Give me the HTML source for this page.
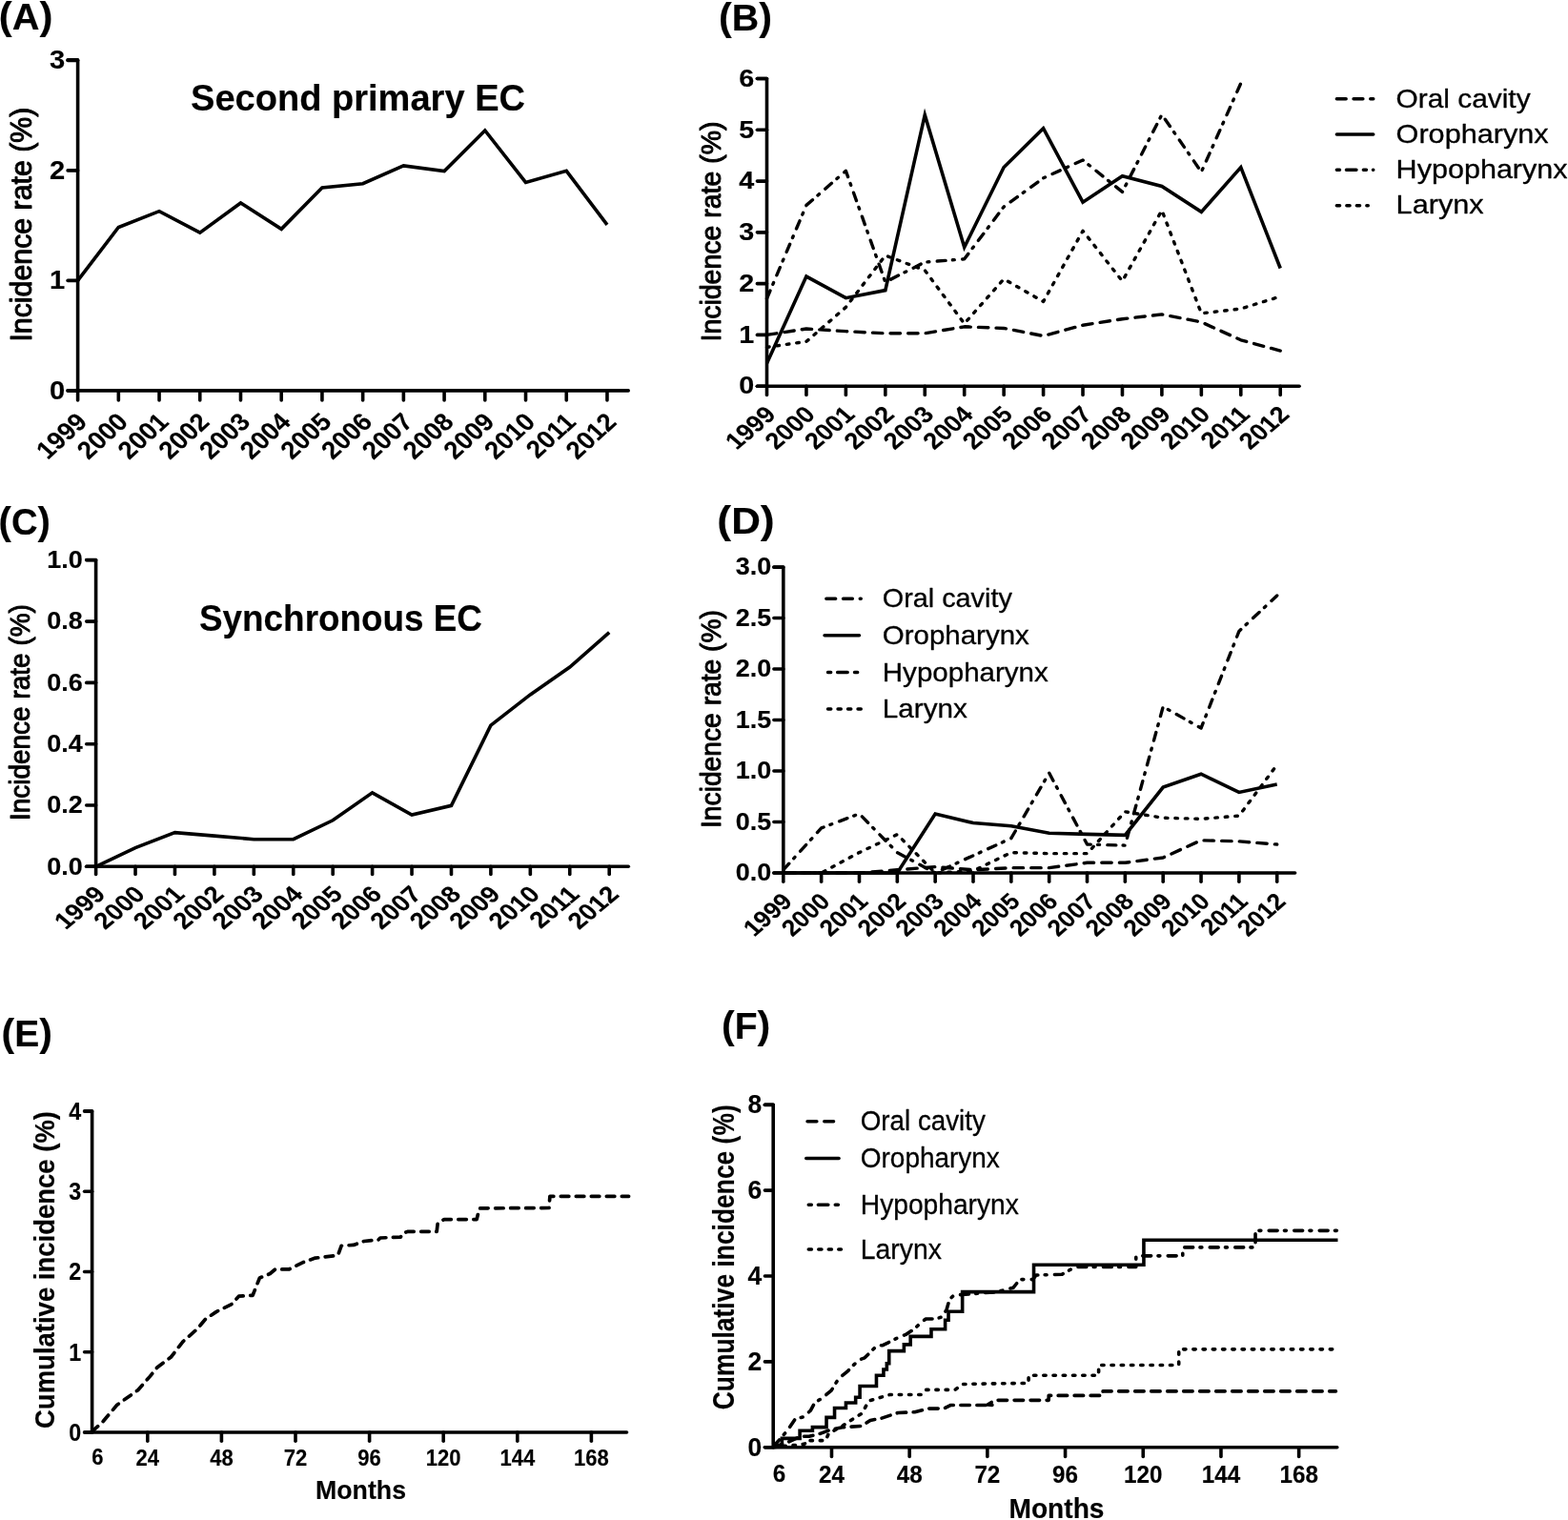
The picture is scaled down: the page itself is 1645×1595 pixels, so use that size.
<!DOCTYPE html>
<html><head><meta charset="utf-8"><title>Figure</title>
<style>html,body{margin:0;padding:0;background:#fff;}svg{display:block;}
text{font-family:"Liberation Sans",sans-serif;}</style></head>
<body>
<svg width="1645" height="1595" viewBox="0 0 1645 1595" stroke="#000" fill="#000" font-family="'Liberation Sans', sans-serif">
<rect x="0" y="0" width="1645" height="1595" fill="#fff" stroke="none"/>
<polyline points="71.1,62.9 81.6,62.9 81.6,409.9" fill="none" stroke-width="3.6" stroke-linecap="round" stroke-linejoin="round"/>
<line x1="71.1" y1="409.9" x2="81.6" y2="409.9" stroke-width="3.6" stroke-linecap="round"/>
<text x="68.2" y="418.87" font-size="27" font-weight="bold" text-anchor="end" textLength="16.22" lengthAdjust="spacingAndGlyphs" stroke="#000" stroke-width="0.15" stroke-linejoin="round">0</text>
<line x1="71.1" y1="294.4" x2="81.6" y2="294.4" stroke-width="3.6" stroke-linecap="round"/>
<text x="68.2" y="303.37" font-size="27" font-weight="bold" text-anchor="end" textLength="16.22" lengthAdjust="spacingAndGlyphs" stroke="#000" stroke-width="0.15" stroke-linejoin="round">1</text>
<line x1="71.1" y1="178.9" x2="81.6" y2="178.9" stroke-width="3.6" stroke-linecap="round"/>
<text x="68.2" y="187.87" font-size="27" font-weight="bold" text-anchor="end" textLength="16.22" lengthAdjust="spacingAndGlyphs" stroke="#000" stroke-width="0.15" stroke-linejoin="round">2</text>
<line x1="71.1" y1="63.4" x2="81.6" y2="63.4" stroke-width="3.6" stroke-linecap="round"/>
<text x="68.2" y="72.37" font-size="27" font-weight="bold" text-anchor="end" textLength="16.22" lengthAdjust="spacingAndGlyphs" stroke="#000" stroke-width="0.15" stroke-linejoin="round">3</text>
<line x1="71.1" y1="409.9" x2="659.2" y2="409.9" stroke-width="3.6" stroke-linecap="round"/>
<line x1="81.6" y1="409.9" x2="81.6" y2="420" stroke-width="3.6" stroke-linecap="round"/>
<text x="0" y="0" font-size="25.9" font-weight="bold" text-anchor="end" textLength="54.74" lengthAdjust="spacingAndGlyphs" transform="translate(93 444.2) scale(1.11 1) rotate(-45)" stroke="#000" stroke-width="0.15" stroke-linejoin="round">1999</text>
<line x1="124.32" y1="409.9" x2="124.32" y2="420" stroke-width="3.6" stroke-linecap="round"/>
<text x="0" y="0" font-size="25.9" font-weight="bold" text-anchor="end" textLength="54.74" lengthAdjust="spacingAndGlyphs" transform="translate(135.72 444.2) scale(1.11 1) rotate(-45)" stroke="#000" stroke-width="0.15" stroke-linejoin="round">2000</text>
<line x1="167.04" y1="409.9" x2="167.04" y2="420" stroke-width="3.6" stroke-linecap="round"/>
<text x="0" y="0" font-size="25.9" font-weight="bold" text-anchor="end" textLength="54.74" lengthAdjust="spacingAndGlyphs" transform="translate(178.44 444.2) scale(1.11 1) rotate(-45)" stroke="#000" stroke-width="0.15" stroke-linejoin="round">2001</text>
<line x1="209.76" y1="409.9" x2="209.76" y2="420" stroke-width="3.6" stroke-linecap="round"/>
<text x="0" y="0" font-size="25.9" font-weight="bold" text-anchor="end" textLength="54.74" lengthAdjust="spacingAndGlyphs" transform="translate(221.16 444.2) scale(1.11 1) rotate(-45)" stroke="#000" stroke-width="0.15" stroke-linejoin="round">2002</text>
<line x1="252.48" y1="409.9" x2="252.48" y2="420" stroke-width="3.6" stroke-linecap="round"/>
<text x="0" y="0" font-size="25.9" font-weight="bold" text-anchor="end" textLength="54.74" lengthAdjust="spacingAndGlyphs" transform="translate(263.88 444.2) scale(1.11 1) rotate(-45)" stroke="#000" stroke-width="0.15" stroke-linejoin="round">2003</text>
<line x1="295.2" y1="409.9" x2="295.2" y2="420" stroke-width="3.6" stroke-linecap="round"/>
<text x="0" y="0" font-size="25.9" font-weight="bold" text-anchor="end" textLength="54.74" lengthAdjust="spacingAndGlyphs" transform="translate(306.6 444.2) scale(1.11 1) rotate(-45)" stroke="#000" stroke-width="0.15" stroke-linejoin="round">2004</text>
<line x1="337.92" y1="409.9" x2="337.92" y2="420" stroke-width="3.6" stroke-linecap="round"/>
<text x="0" y="0" font-size="25.9" font-weight="bold" text-anchor="end" textLength="54.74" lengthAdjust="spacingAndGlyphs" transform="translate(349.32 444.2) scale(1.11 1) rotate(-45)" stroke="#000" stroke-width="0.15" stroke-linejoin="round">2005</text>
<line x1="380.64" y1="409.9" x2="380.64" y2="420" stroke-width="3.6" stroke-linecap="round"/>
<text x="0" y="0" font-size="25.9" font-weight="bold" text-anchor="end" textLength="54.74" lengthAdjust="spacingAndGlyphs" transform="translate(392.04 444.2) scale(1.11 1) rotate(-45)" stroke="#000" stroke-width="0.15" stroke-linejoin="round">2006</text>
<line x1="423.36" y1="409.9" x2="423.36" y2="420" stroke-width="3.6" stroke-linecap="round"/>
<text x="0" y="0" font-size="25.9" font-weight="bold" text-anchor="end" textLength="54.74" lengthAdjust="spacingAndGlyphs" transform="translate(434.76 444.2) scale(1.11 1) rotate(-45)" stroke="#000" stroke-width="0.15" stroke-linejoin="round">2007</text>
<line x1="466.08" y1="409.9" x2="466.08" y2="420" stroke-width="3.6" stroke-linecap="round"/>
<text x="0" y="0" font-size="25.9" font-weight="bold" text-anchor="end" textLength="54.74" lengthAdjust="spacingAndGlyphs" transform="translate(477.48 444.2) scale(1.11 1) rotate(-45)" stroke="#000" stroke-width="0.15" stroke-linejoin="round">2008</text>
<line x1="508.8" y1="409.9" x2="508.8" y2="420" stroke-width="3.6" stroke-linecap="round"/>
<text x="0" y="0" font-size="25.9" font-weight="bold" text-anchor="end" textLength="54.74" lengthAdjust="spacingAndGlyphs" transform="translate(520.2 444.2) scale(1.11 1) rotate(-45)" stroke="#000" stroke-width="0.15" stroke-linejoin="round">2009</text>
<line x1="551.52" y1="409.9" x2="551.52" y2="420" stroke-width="3.6" stroke-linecap="round"/>
<text x="0" y="0" font-size="25.9" font-weight="bold" text-anchor="end" textLength="54.74" lengthAdjust="spacingAndGlyphs" transform="translate(562.92 444.2) scale(1.11 1) rotate(-45)" stroke="#000" stroke-width="0.15" stroke-linejoin="round">2010</text>
<line x1="594.24" y1="409.9" x2="594.24" y2="420" stroke-width="3.6" stroke-linecap="round"/>
<text x="0" y="0" font-size="25.9" font-weight="bold" text-anchor="end" textLength="53.38" lengthAdjust="spacingAndGlyphs" transform="translate(605.64 444.2) scale(1.11 1) rotate(-45)" stroke="#000" stroke-width="0.15" stroke-linejoin="round">2011</text>
<line x1="636.96" y1="409.9" x2="636.96" y2="420" stroke-width="3.6" stroke-linecap="round"/>
<text x="0" y="0" font-size="25.9" font-weight="bold" text-anchor="end" textLength="54.74" lengthAdjust="spacingAndGlyphs" transform="translate(648.36 444.2) scale(1.11 1) rotate(-45)" stroke="#000" stroke-width="0.15" stroke-linejoin="round">2012</text>
<polyline points="81.6,294.4 124.32,238.5 167.04,221.63 209.76,244.16 252.48,212.97 295.2,240.35 337.92,196.92 380.64,192.76 423.36,173.93 466.08,179.59 508.8,136.86 551.52,191.37 594.24,179.36 636.96,235.84" fill="none" stroke-width="3.6" stroke-linecap="butt" stroke-linejoin="miter"/>
<text x="32.9" y="235.6" font-size="31" text-anchor="middle" textLength="246" lengthAdjust="spacingAndGlyphs" transform="rotate(-90 32.9 235.6)" stroke="#000" stroke-width="1" stroke-linejoin="round">Incidence rate (%)</text>
<text x="200" y="116.2" font-size="38" font-weight="bold" textLength="351" lengthAdjust="spacingAndGlyphs" stroke="#000" stroke-width="0.15" stroke-linejoin="round">Second primary EC</text>
<polyline points="794.4,82.5 804.5,82.5 804.5,405.2" fill="none" stroke-width="3.6" stroke-linecap="round" stroke-linejoin="round"/>
<line x1="794.4" y1="405.2" x2="804.5" y2="405.2" stroke-width="3.6" stroke-linecap="round"/>
<text x="791.2" y="413.45" font-size="25" font-weight="bold" text-anchor="end" textLength="15.99" lengthAdjust="spacingAndGlyphs" stroke="#000" stroke-width="0.15" stroke-linejoin="round">0</text>
<line x1="794.4" y1="351.42" x2="804.5" y2="351.42" stroke-width="3.6" stroke-linecap="round"/>
<text x="791.2" y="359.67" font-size="25" font-weight="bold" text-anchor="end" textLength="15.99" lengthAdjust="spacingAndGlyphs" stroke="#000" stroke-width="0.15" stroke-linejoin="round">1</text>
<line x1="794.4" y1="297.64" x2="804.5" y2="297.64" stroke-width="3.6" stroke-linecap="round"/>
<text x="791.2" y="305.89" font-size="25" font-weight="bold" text-anchor="end" textLength="15.99" lengthAdjust="spacingAndGlyphs" stroke="#000" stroke-width="0.15" stroke-linejoin="round">2</text>
<line x1="794.4" y1="243.86" x2="804.5" y2="243.86" stroke-width="3.6" stroke-linecap="round"/>
<text x="791.2" y="252.11" font-size="25" font-weight="bold" text-anchor="end" textLength="15.99" lengthAdjust="spacingAndGlyphs" stroke="#000" stroke-width="0.15" stroke-linejoin="round">3</text>
<line x1="794.4" y1="190.08" x2="804.5" y2="190.08" stroke-width="3.6" stroke-linecap="round"/>
<text x="791.2" y="198.33" font-size="25" font-weight="bold" text-anchor="end" textLength="15.99" lengthAdjust="spacingAndGlyphs" stroke="#000" stroke-width="0.15" stroke-linejoin="round">4</text>
<line x1="794.4" y1="136.3" x2="804.5" y2="136.3" stroke-width="3.6" stroke-linecap="round"/>
<text x="791.2" y="144.55" font-size="25" font-weight="bold" text-anchor="end" textLength="15.99" lengthAdjust="spacingAndGlyphs" stroke="#000" stroke-width="0.15" stroke-linejoin="round">5</text>
<line x1="794.4" y1="82.52" x2="804.5" y2="82.52" stroke-width="3.6" stroke-linecap="round"/>
<text x="791.2" y="90.77" font-size="25" font-weight="bold" text-anchor="end" textLength="15.99" lengthAdjust="spacingAndGlyphs" stroke="#000" stroke-width="0.15" stroke-linejoin="round">6</text>
<line x1="794.4" y1="405.2" x2="1363.1" y2="405.2" stroke-width="3.6" stroke-linecap="round"/>
<line x1="804.5" y1="405.2" x2="804.5" y2="414.4" stroke-width="3.6" stroke-linecap="round"/>
<text x="0" y="0" font-size="24.3" font-weight="bold" text-anchor="end" textLength="51.36" lengthAdjust="spacingAndGlyphs" transform="translate(815.3 436.5) scale(1.17 1) rotate(-45)" stroke="#000" stroke-width="0.15" stroke-linejoin="round">1999</text>
<line x1="845.94" y1="405.2" x2="845.94" y2="414.4" stroke-width="3.6" stroke-linecap="round"/>
<text x="0" y="0" font-size="24.3" font-weight="bold" text-anchor="end" textLength="51.36" lengthAdjust="spacingAndGlyphs" transform="translate(856.74 436.5) scale(1.17 1) rotate(-45)" stroke="#000" stroke-width="0.15" stroke-linejoin="round">2000</text>
<line x1="887.38" y1="405.2" x2="887.38" y2="414.4" stroke-width="3.6" stroke-linecap="round"/>
<text x="0" y="0" font-size="24.3" font-weight="bold" text-anchor="end" textLength="51.36" lengthAdjust="spacingAndGlyphs" transform="translate(898.18 436.5) scale(1.17 1) rotate(-45)" stroke="#000" stroke-width="0.15" stroke-linejoin="round">2001</text>
<line x1="928.82" y1="405.2" x2="928.82" y2="414.4" stroke-width="3.6" stroke-linecap="round"/>
<text x="0" y="0" font-size="24.3" font-weight="bold" text-anchor="end" textLength="51.36" lengthAdjust="spacingAndGlyphs" transform="translate(939.62 436.5) scale(1.17 1) rotate(-45)" stroke="#000" stroke-width="0.15" stroke-linejoin="round">2002</text>
<line x1="970.26" y1="405.2" x2="970.26" y2="414.4" stroke-width="3.6" stroke-linecap="round"/>
<text x="0" y="0" font-size="24.3" font-weight="bold" text-anchor="end" textLength="51.36" lengthAdjust="spacingAndGlyphs" transform="translate(981.06 436.5) scale(1.17 1) rotate(-45)" stroke="#000" stroke-width="0.15" stroke-linejoin="round">2003</text>
<line x1="1011.7" y1="405.2" x2="1011.7" y2="414.4" stroke-width="3.6" stroke-linecap="round"/>
<text x="0" y="0" font-size="24.3" font-weight="bold" text-anchor="end" textLength="51.36" lengthAdjust="spacingAndGlyphs" transform="translate(1022.5 436.5) scale(1.17 1) rotate(-45)" stroke="#000" stroke-width="0.15" stroke-linejoin="round">2004</text>
<line x1="1053.14" y1="405.2" x2="1053.14" y2="414.4" stroke-width="3.6" stroke-linecap="round"/>
<text x="0" y="0" font-size="24.3" font-weight="bold" text-anchor="end" textLength="51.36" lengthAdjust="spacingAndGlyphs" transform="translate(1063.94 436.5) scale(1.17 1) rotate(-45)" stroke="#000" stroke-width="0.15" stroke-linejoin="round">2005</text>
<line x1="1094.58" y1="405.2" x2="1094.58" y2="414.4" stroke-width="3.6" stroke-linecap="round"/>
<text x="0" y="0" font-size="24.3" font-weight="bold" text-anchor="end" textLength="51.36" lengthAdjust="spacingAndGlyphs" transform="translate(1105.38 436.5) scale(1.17 1) rotate(-45)" stroke="#000" stroke-width="0.15" stroke-linejoin="round">2006</text>
<line x1="1136.02" y1="405.2" x2="1136.02" y2="414.4" stroke-width="3.6" stroke-linecap="round"/>
<text x="0" y="0" font-size="24.3" font-weight="bold" text-anchor="end" textLength="51.36" lengthAdjust="spacingAndGlyphs" transform="translate(1146.82 436.5) scale(1.17 1) rotate(-45)" stroke="#000" stroke-width="0.15" stroke-linejoin="round">2007</text>
<line x1="1177.46" y1="405.2" x2="1177.46" y2="414.4" stroke-width="3.6" stroke-linecap="round"/>
<text x="0" y="0" font-size="24.3" font-weight="bold" text-anchor="end" textLength="51.36" lengthAdjust="spacingAndGlyphs" transform="translate(1188.26 436.5) scale(1.17 1) rotate(-45)" stroke="#000" stroke-width="0.15" stroke-linejoin="round">2008</text>
<line x1="1218.9" y1="405.2" x2="1218.9" y2="414.4" stroke-width="3.6" stroke-linecap="round"/>
<text x="0" y="0" font-size="24.3" font-weight="bold" text-anchor="end" textLength="51.36" lengthAdjust="spacingAndGlyphs" transform="translate(1229.7 436.5) scale(1.17 1) rotate(-45)" stroke="#000" stroke-width="0.15" stroke-linejoin="round">2009</text>
<line x1="1260.34" y1="405.2" x2="1260.34" y2="414.4" stroke-width="3.6" stroke-linecap="round"/>
<text x="0" y="0" font-size="24.3" font-weight="bold" text-anchor="end" textLength="51.36" lengthAdjust="spacingAndGlyphs" transform="translate(1271.14 436.5) scale(1.17 1) rotate(-45)" stroke="#000" stroke-width="0.15" stroke-linejoin="round">2010</text>
<line x1="1301.78" y1="405.2" x2="1301.78" y2="414.4" stroke-width="3.6" stroke-linecap="round"/>
<text x="0" y="0" font-size="24.3" font-weight="bold" text-anchor="end" textLength="50.08" lengthAdjust="spacingAndGlyphs" transform="translate(1312.58 436.5) scale(1.17 1) rotate(-45)" stroke="#000" stroke-width="0.15" stroke-linejoin="round">2011</text>
<line x1="1343.22" y1="405.2" x2="1343.22" y2="414.4" stroke-width="3.6" stroke-linecap="round"/>
<text x="0" y="0" font-size="24.3" font-weight="bold" text-anchor="end" textLength="51.36" lengthAdjust="spacingAndGlyphs" transform="translate(1354.02 436.5) scale(1.17 1) rotate(-45)" stroke="#000" stroke-width="0.15" stroke-linejoin="round">2012</text>
<polyline points="804.5,351.42 845.94,344.97 887.38,347.66 928.82,349.81 970.26,349.81 1011.7,342.82 1053.14,344.43 1094.58,352.5 1136.02,341.2 1177.46,334.75 1218.9,329.91 1260.34,337.98 1301.78,356.8 1343.22,368.09" fill="none" stroke-width="3.4" stroke-linecap="round" stroke-linejoin="round" stroke-dasharray="10.4 8.2"/>
<polyline points="804.5,381.27 845.94,290.11 887.38,312.7 928.82,304.63 970.26,120.7 1011.7,259.46 1053.14,175.56 1094.58,134.69 1136.02,212.13 1177.46,184.7 1218.9,195.46 1260.34,222.35 1301.78,175.56 1343.22,281.51" fill="none" stroke-width="3.6" stroke-linecap="butt" stroke-linejoin="miter"/>
<polyline points="804.5,313.24 845.94,215.36 887.38,179.32 928.82,296.03 970.26,275.05 1011.7,271.83 1053.14,216.97 1094.58,186.85 1136.02,168.03 1177.46,201.37 1218.9,120.17 1260.34,180.4 1301.78,87.36" fill="none" stroke-width="3.4" stroke-linecap="round" stroke-linejoin="round" stroke-dasharray="8.9 7.3 1.9 8.4"/>
<polyline points="804.5,364.33 845.94,358.41 887.38,322.38 928.82,268.06 970.26,283.66 1011.7,339.59 1053.14,292.8 1094.58,316.46 1136.02,242.25 1177.46,294.95 1218.9,220.73 1260.34,328.83 1301.78,323.99 1343.22,311.08" fill="none" stroke-width="3.4" stroke-linecap="round" stroke-linejoin="round" stroke-dasharray="2.6 7.9"/>
<text x="756.3" y="243" font-size="30" text-anchor="middle" textLength="231" lengthAdjust="spacingAndGlyphs" transform="rotate(-90 756.3 243)" stroke="#000" stroke-width="1" stroke-linejoin="round">Incidence rate (%)</text>
<polyline points="1402.35,103.8 1440.75,103.8" fill="none" stroke-width="3.5" stroke-linecap="round" stroke-linejoin="round" stroke-dasharray="9.8 7.9"/>
<text x="1464.6" y="113.2" font-size="27.5" textLength="141" lengthAdjust="spacingAndGlyphs" stroke="#000" stroke-width="0.3" stroke-linejoin="round">Oral cavity</text>
<line x1="1402.35" y1="140.9" x2="1440.75" y2="140.9" stroke-width="3.5" stroke-linecap="round"/>
<text x="1464.6" y="149.7" font-size="27.5" textLength="160" lengthAdjust="spacingAndGlyphs" stroke="#000" stroke-width="0.3" stroke-linejoin="round">Oropharynx</text>
<polyline points="1402.35,178.3 1440.75,178.3" fill="none" stroke-width="3.5" stroke-linecap="round" stroke-linejoin="round" stroke-dasharray="3.1 7 10.5 7.4"/>
<text x="1464.6" y="186.8" font-size="27.5" textLength="180" lengthAdjust="spacingAndGlyphs" stroke="#000" stroke-width="0.3" stroke-linejoin="round">Hypopharynx</text>
<polyline points="1402.35,215.8 1435.25,215.8" fill="none" stroke-width="3.5" stroke-linecap="round" stroke-linejoin="round" stroke-dasharray="3.2 7.3"/>
<text x="1464.6" y="223.9" font-size="27.5" textLength="92" lengthAdjust="spacingAndGlyphs" stroke="#000" stroke-width="0.3" stroke-linejoin="round">Larynx</text>
<polyline points="90.7,587.5 100.6,587.5 100.6,909.3" fill="none" stroke-width="3.6" stroke-linecap="round" stroke-linejoin="round"/>
<line x1="90.7" y1="909.3" x2="100.6" y2="909.3" stroke-width="3.6" stroke-linecap="round"/>
<text x="86.8" y="917.55" font-size="25" font-weight="bold" text-anchor="end" textLength="37.53" lengthAdjust="spacingAndGlyphs" stroke="#000" stroke-width="0.15" stroke-linejoin="round">0.0</text>
<line x1="90.7" y1="845" x2="100.6" y2="845" stroke-width="3.6" stroke-linecap="round"/>
<text x="86.8" y="853.25" font-size="25" font-weight="bold" text-anchor="end" textLength="37.53" lengthAdjust="spacingAndGlyphs" stroke="#000" stroke-width="0.15" stroke-linejoin="round">0.2</text>
<line x1="90.7" y1="780.7" x2="100.6" y2="780.7" stroke-width="3.6" stroke-linecap="round"/>
<text x="86.8" y="788.95" font-size="25" font-weight="bold" text-anchor="end" textLength="37.53" lengthAdjust="spacingAndGlyphs" stroke="#000" stroke-width="0.15" stroke-linejoin="round">0.4</text>
<line x1="90.7" y1="716.4" x2="100.6" y2="716.4" stroke-width="3.6" stroke-linecap="round"/>
<text x="86.8" y="724.65" font-size="25" font-weight="bold" text-anchor="end" textLength="37.53" lengthAdjust="spacingAndGlyphs" stroke="#000" stroke-width="0.15" stroke-linejoin="round">0.6</text>
<line x1="90.7" y1="652.1" x2="100.6" y2="652.1" stroke-width="3.6" stroke-linecap="round"/>
<text x="86.8" y="660.35" font-size="25" font-weight="bold" text-anchor="end" textLength="37.53" lengthAdjust="spacingAndGlyphs" stroke="#000" stroke-width="0.15" stroke-linejoin="round">0.8</text>
<line x1="90.7" y1="587.8" x2="100.6" y2="587.8" stroke-width="3.6" stroke-linecap="round"/>
<text x="86.8" y="596.05" font-size="25" font-weight="bold" text-anchor="end" textLength="37.53" lengthAdjust="spacingAndGlyphs" stroke="#000" stroke-width="0.15" stroke-linejoin="round">1.0</text>
<line x1="90.7" y1="909.3" x2="659.3" y2="909.3" stroke-width="3.6" stroke-linecap="round"/>
<line x1="100.6" y1="909.3" x2="100.6" y2="917.5" stroke-width="3.6" stroke-linecap="round"/>
<text x="0" y="0" font-size="24.3" font-weight="bold" text-anchor="end" textLength="51.36" lengthAdjust="spacingAndGlyphs" transform="translate(112.1 939.9) scale(1.19 1) rotate(-45)" stroke="#000" stroke-width="0.15" stroke-linejoin="round">1999</text>
<line x1="142.03" y1="909.3" x2="142.03" y2="917.5" stroke-width="3.6" stroke-linecap="round"/>
<text x="0" y="0" font-size="24.3" font-weight="bold" text-anchor="end" textLength="51.36" lengthAdjust="spacingAndGlyphs" transform="translate(153.53 939.9) scale(1.19 1) rotate(-45)" stroke="#000" stroke-width="0.15" stroke-linejoin="round">2000</text>
<line x1="183.46" y1="909.3" x2="183.46" y2="917.5" stroke-width="3.6" stroke-linecap="round"/>
<text x="0" y="0" font-size="24.3" font-weight="bold" text-anchor="end" textLength="51.36" lengthAdjust="spacingAndGlyphs" transform="translate(194.96 939.9) scale(1.19 1) rotate(-45)" stroke="#000" stroke-width="0.15" stroke-linejoin="round">2001</text>
<line x1="224.89" y1="909.3" x2="224.89" y2="917.5" stroke-width="3.6" stroke-linecap="round"/>
<text x="0" y="0" font-size="24.3" font-weight="bold" text-anchor="end" textLength="51.36" lengthAdjust="spacingAndGlyphs" transform="translate(236.39 939.9) scale(1.19 1) rotate(-45)" stroke="#000" stroke-width="0.15" stroke-linejoin="round">2002</text>
<line x1="266.32" y1="909.3" x2="266.32" y2="917.5" stroke-width="3.6" stroke-linecap="round"/>
<text x="0" y="0" font-size="24.3" font-weight="bold" text-anchor="end" textLength="51.36" lengthAdjust="spacingAndGlyphs" transform="translate(277.82 939.9) scale(1.19 1) rotate(-45)" stroke="#000" stroke-width="0.15" stroke-linejoin="round">2003</text>
<line x1="307.75" y1="909.3" x2="307.75" y2="917.5" stroke-width="3.6" stroke-linecap="round"/>
<text x="0" y="0" font-size="24.3" font-weight="bold" text-anchor="end" textLength="51.36" lengthAdjust="spacingAndGlyphs" transform="translate(319.25 939.9) scale(1.19 1) rotate(-45)" stroke="#000" stroke-width="0.15" stroke-linejoin="round">2004</text>
<line x1="349.18" y1="909.3" x2="349.18" y2="917.5" stroke-width="3.6" stroke-linecap="round"/>
<text x="0" y="0" font-size="24.3" font-weight="bold" text-anchor="end" textLength="51.36" lengthAdjust="spacingAndGlyphs" transform="translate(360.68 939.9) scale(1.19 1) rotate(-45)" stroke="#000" stroke-width="0.15" stroke-linejoin="round">2005</text>
<line x1="390.61" y1="909.3" x2="390.61" y2="917.5" stroke-width="3.6" stroke-linecap="round"/>
<text x="0" y="0" font-size="24.3" font-weight="bold" text-anchor="end" textLength="51.36" lengthAdjust="spacingAndGlyphs" transform="translate(402.11 939.9) scale(1.19 1) rotate(-45)" stroke="#000" stroke-width="0.15" stroke-linejoin="round">2006</text>
<line x1="432.04" y1="909.3" x2="432.04" y2="917.5" stroke-width="3.6" stroke-linecap="round"/>
<text x="0" y="0" font-size="24.3" font-weight="bold" text-anchor="end" textLength="51.36" lengthAdjust="spacingAndGlyphs" transform="translate(443.54 939.9) scale(1.19 1) rotate(-45)" stroke="#000" stroke-width="0.15" stroke-linejoin="round">2007</text>
<line x1="473.47" y1="909.3" x2="473.47" y2="917.5" stroke-width="3.6" stroke-linecap="round"/>
<text x="0" y="0" font-size="24.3" font-weight="bold" text-anchor="end" textLength="51.36" lengthAdjust="spacingAndGlyphs" transform="translate(484.97 939.9) scale(1.19 1) rotate(-45)" stroke="#000" stroke-width="0.15" stroke-linejoin="round">2008</text>
<line x1="514.9" y1="909.3" x2="514.9" y2="917.5" stroke-width="3.6" stroke-linecap="round"/>
<text x="0" y="0" font-size="24.3" font-weight="bold" text-anchor="end" textLength="51.36" lengthAdjust="spacingAndGlyphs" transform="translate(526.4 939.9) scale(1.19 1) rotate(-45)" stroke="#000" stroke-width="0.15" stroke-linejoin="round">2009</text>
<line x1="556.33" y1="909.3" x2="556.33" y2="917.5" stroke-width="3.6" stroke-linecap="round"/>
<text x="0" y="0" font-size="24.3" font-weight="bold" text-anchor="end" textLength="51.36" lengthAdjust="spacingAndGlyphs" transform="translate(567.83 939.9) scale(1.19 1) rotate(-45)" stroke="#000" stroke-width="0.15" stroke-linejoin="round">2010</text>
<line x1="597.76" y1="909.3" x2="597.76" y2="917.5" stroke-width="3.6" stroke-linecap="round"/>
<text x="0" y="0" font-size="24.3" font-weight="bold" text-anchor="end" textLength="50.08" lengthAdjust="spacingAndGlyphs" transform="translate(609.26 939.9) scale(1.19 1) rotate(-45)" stroke="#000" stroke-width="0.15" stroke-linejoin="round">2011</text>
<line x1="639.19" y1="909.3" x2="639.19" y2="917.5" stroke-width="3.6" stroke-linecap="round"/>
<text x="0" y="0" font-size="24.3" font-weight="bold" text-anchor="end" textLength="51.36" lengthAdjust="spacingAndGlyphs" transform="translate(650.69 939.9) scale(1.19 1) rotate(-45)" stroke="#000" stroke-width="0.15" stroke-linejoin="round">2012</text>
<polyline points="100.6,909.3 142.03,889.69 183.46,873.61 224.89,877.15 266.32,880.69 307.75,880.69 349.18,860.75 390.61,831.82 432.04,854.97 473.47,845.32 514.9,761.09 556.33,728.94 597.76,700 639.19,663.67" fill="none" stroke-width="3.6" stroke-linecap="butt" stroke-linejoin="miter"/>
<text x="30.7" y="747.6" font-size="30" text-anchor="middle" textLength="227" lengthAdjust="spacingAndGlyphs" transform="rotate(-90 30.7 747.6)" stroke="#000" stroke-width="1" stroke-linejoin="round">Incidence rate (%)</text>
<text x="209" y="662.3" font-size="38" font-weight="bold" textLength="297" lengthAdjust="spacingAndGlyphs" stroke="#000" stroke-width="0.15" stroke-linejoin="round">Synchronous EC</text>
<polyline points="811.9,595.3 821.8,595.3 821.8,916" fill="none" stroke-width="3.6" stroke-linecap="round" stroke-linejoin="round"/>
<line x1="811.9" y1="916" x2="821.8" y2="916" stroke-width="3.6" stroke-linecap="round"/>
<text x="809.2" y="924.25" font-size="25" font-weight="bold" text-anchor="end" textLength="37.53" lengthAdjust="spacingAndGlyphs" stroke="#000" stroke-width="0.15" stroke-linejoin="round">0.0</text>
<line x1="811.9" y1="862.5" x2="821.8" y2="862.5" stroke-width="3.6" stroke-linecap="round"/>
<text x="809.2" y="870.75" font-size="25" font-weight="bold" text-anchor="end" textLength="37.53" lengthAdjust="spacingAndGlyphs" stroke="#000" stroke-width="0.15" stroke-linejoin="round">0.5</text>
<line x1="811.9" y1="809" x2="821.8" y2="809" stroke-width="3.6" stroke-linecap="round"/>
<text x="809.2" y="817.25" font-size="25" font-weight="bold" text-anchor="end" textLength="37.53" lengthAdjust="spacingAndGlyphs" stroke="#000" stroke-width="0.15" stroke-linejoin="round">1.0</text>
<line x1="811.9" y1="755.5" x2="821.8" y2="755.5" stroke-width="3.6" stroke-linecap="round"/>
<text x="809.2" y="763.75" font-size="25" font-weight="bold" text-anchor="end" textLength="37.53" lengthAdjust="spacingAndGlyphs" stroke="#000" stroke-width="0.15" stroke-linejoin="round">1.5</text>
<line x1="811.9" y1="702" x2="821.8" y2="702" stroke-width="3.6" stroke-linecap="round"/>
<text x="809.2" y="710.25" font-size="25" font-weight="bold" text-anchor="end" textLength="37.53" lengthAdjust="spacingAndGlyphs" stroke="#000" stroke-width="0.15" stroke-linejoin="round">2.0</text>
<line x1="811.9" y1="648.5" x2="821.8" y2="648.5" stroke-width="3.6" stroke-linecap="round"/>
<text x="809.2" y="656.75" font-size="25" font-weight="bold" text-anchor="end" textLength="37.53" lengthAdjust="spacingAndGlyphs" stroke="#000" stroke-width="0.15" stroke-linejoin="round">2.5</text>
<line x1="811.9" y1="595" x2="821.8" y2="595" stroke-width="3.6" stroke-linecap="round"/>
<text x="809.2" y="603.25" font-size="25" font-weight="bold" text-anchor="end" textLength="37.53" lengthAdjust="spacingAndGlyphs" stroke="#000" stroke-width="0.15" stroke-linejoin="round">3.0</text>
<line x1="811.9" y1="916" x2="1358.6" y2="916" stroke-width="3.6" stroke-linecap="round"/>
<line x1="821.8" y1="916" x2="821.8" y2="925.2" stroke-width="3.6" stroke-linecap="round"/>
<text x="0" y="0" font-size="24.3" font-weight="bold" text-anchor="end" textLength="51.36" lengthAdjust="spacingAndGlyphs" transform="translate(832.4 947.4) scale(1.13 1) rotate(-45)" stroke="#000" stroke-width="0.15" stroke-linejoin="round">1999</text>
<line x1="861.64" y1="916" x2="861.64" y2="925.2" stroke-width="3.6" stroke-linecap="round"/>
<text x="0" y="0" font-size="24.3" font-weight="bold" text-anchor="end" textLength="51.36" lengthAdjust="spacingAndGlyphs" transform="translate(872.24 947.4) scale(1.13 1) rotate(-45)" stroke="#000" stroke-width="0.15" stroke-linejoin="round">2000</text>
<line x1="901.48" y1="916" x2="901.48" y2="925.2" stroke-width="3.6" stroke-linecap="round"/>
<text x="0" y="0" font-size="24.3" font-weight="bold" text-anchor="end" textLength="51.36" lengthAdjust="spacingAndGlyphs" transform="translate(912.08 947.4) scale(1.13 1) rotate(-45)" stroke="#000" stroke-width="0.15" stroke-linejoin="round">2001</text>
<line x1="941.32" y1="916" x2="941.32" y2="925.2" stroke-width="3.6" stroke-linecap="round"/>
<text x="0" y="0" font-size="24.3" font-weight="bold" text-anchor="end" textLength="51.36" lengthAdjust="spacingAndGlyphs" transform="translate(951.92 947.4) scale(1.13 1) rotate(-45)" stroke="#000" stroke-width="0.15" stroke-linejoin="round">2002</text>
<line x1="981.16" y1="916" x2="981.16" y2="925.2" stroke-width="3.6" stroke-linecap="round"/>
<text x="0" y="0" font-size="24.3" font-weight="bold" text-anchor="end" textLength="51.36" lengthAdjust="spacingAndGlyphs" transform="translate(991.76 947.4) scale(1.13 1) rotate(-45)" stroke="#000" stroke-width="0.15" stroke-linejoin="round">2003</text>
<line x1="1021" y1="916" x2="1021" y2="925.2" stroke-width="3.6" stroke-linecap="round"/>
<text x="0" y="0" font-size="24.3" font-weight="bold" text-anchor="end" textLength="51.36" lengthAdjust="spacingAndGlyphs" transform="translate(1031.6 947.4) scale(1.13 1) rotate(-45)" stroke="#000" stroke-width="0.15" stroke-linejoin="round">2004</text>
<line x1="1060.84" y1="916" x2="1060.84" y2="925.2" stroke-width="3.6" stroke-linecap="round"/>
<text x="0" y="0" font-size="24.3" font-weight="bold" text-anchor="end" textLength="51.36" lengthAdjust="spacingAndGlyphs" transform="translate(1071.44 947.4) scale(1.13 1) rotate(-45)" stroke="#000" stroke-width="0.15" stroke-linejoin="round">2005</text>
<line x1="1100.68" y1="916" x2="1100.68" y2="925.2" stroke-width="3.6" stroke-linecap="round"/>
<text x="0" y="0" font-size="24.3" font-weight="bold" text-anchor="end" textLength="51.36" lengthAdjust="spacingAndGlyphs" transform="translate(1111.28 947.4) scale(1.13 1) rotate(-45)" stroke="#000" stroke-width="0.15" stroke-linejoin="round">2006</text>
<line x1="1140.52" y1="916" x2="1140.52" y2="925.2" stroke-width="3.6" stroke-linecap="round"/>
<text x="0" y="0" font-size="24.3" font-weight="bold" text-anchor="end" textLength="51.36" lengthAdjust="spacingAndGlyphs" transform="translate(1151.12 947.4) scale(1.13 1) rotate(-45)" stroke="#000" stroke-width="0.15" stroke-linejoin="round">2007</text>
<line x1="1180.36" y1="916" x2="1180.36" y2="925.2" stroke-width="3.6" stroke-linecap="round"/>
<text x="0" y="0" font-size="24.3" font-weight="bold" text-anchor="end" textLength="51.36" lengthAdjust="spacingAndGlyphs" transform="translate(1190.96 947.4) scale(1.13 1) rotate(-45)" stroke="#000" stroke-width="0.15" stroke-linejoin="round">2008</text>
<line x1="1220.2" y1="916" x2="1220.2" y2="925.2" stroke-width="3.6" stroke-linecap="round"/>
<text x="0" y="0" font-size="24.3" font-weight="bold" text-anchor="end" textLength="51.36" lengthAdjust="spacingAndGlyphs" transform="translate(1230.8 947.4) scale(1.13 1) rotate(-45)" stroke="#000" stroke-width="0.15" stroke-linejoin="round">2009</text>
<line x1="1260.04" y1="916" x2="1260.04" y2="925.2" stroke-width="3.6" stroke-linecap="round"/>
<text x="0" y="0" font-size="24.3" font-weight="bold" text-anchor="end" textLength="51.36" lengthAdjust="spacingAndGlyphs" transform="translate(1270.64 947.4) scale(1.13 1) rotate(-45)" stroke="#000" stroke-width="0.15" stroke-linejoin="round">2010</text>
<line x1="1299.88" y1="916" x2="1299.88" y2="925.2" stroke-width="3.6" stroke-linecap="round"/>
<text x="0" y="0" font-size="24.3" font-weight="bold" text-anchor="end" textLength="50.08" lengthAdjust="spacingAndGlyphs" transform="translate(1310.48 947.4) scale(1.13 1) rotate(-45)" stroke="#000" stroke-width="0.15" stroke-linejoin="round">2011</text>
<line x1="1339.72" y1="916" x2="1339.72" y2="925.2" stroke-width="3.6" stroke-linecap="round"/>
<text x="0" y="0" font-size="24.3" font-weight="bold" text-anchor="end" textLength="51.36" lengthAdjust="spacingAndGlyphs" transform="translate(1350.32 947.4) scale(1.13 1) rotate(-45)" stroke="#000" stroke-width="0.15" stroke-linejoin="round">2012</text>
<polyline points="821.8,916 861.64,916 901.48,916 941.32,912.79 981.16,909.58 1021,912.79 1060.84,910.65 1100.68,910.65 1140.52,905.3 1180.36,905.3 1220.2,899.95 1260.04,881.76 1299.88,882.83 1339.72,886.04" fill="none" stroke-width="3.4" stroke-linecap="round" stroke-linejoin="round" stroke-dasharray="10.4 8.2"/>
<polyline points="821.8,912.79 861.64,868.92 901.48,853.94 941.32,894.6 981.16,916 1021,897.81 1060.84,879.62 1100.68,811.14 1140.52,886.04 1180.36,887.11 1220.2,741.59 1260.04,764.06 1299.88,662.41 1339.72,624.96" fill="none" stroke-width="3.4" stroke-linecap="round" stroke-linejoin="round" stroke-dasharray="8.9 7.3 1.9 8.4"/>
<polyline points="821.8,916 861.64,916 901.48,894.6 941.32,875.66 981.16,916 1021,913.86 1060.84,894.6 1100.68,895.67 1140.52,895.67 1180.36,851.8 1220.2,858.22 1260.04,859.29 1299.88,856.08 1339.72,802.58" fill="none" stroke-width="3.4" stroke-linecap="round" stroke-linejoin="round" stroke-dasharray="2.6 7.9"/>
<polyline points="821.8,916 861.64,916 901.48,916 941.32,916 981.16,853.94 1021,863.57 1060.84,866.78 1100.68,874.27 1140.52,875.34 1180.36,876.41 1220.2,826.12 1260.04,812.21 1299.88,831.47 1339.72,822.91" fill="none" stroke-width="3.6" stroke-linecap="butt" stroke-linejoin="miter"/>
<text x="755.5" y="754.5" font-size="30" text-anchor="middle" textLength="229" lengthAdjust="spacingAndGlyphs" transform="rotate(-90 755.5 754.5)" stroke="#000" stroke-width="1" stroke-linejoin="round">Incidence rate (%)</text>
<polyline points="866.85,628.2 903.25,628.2" fill="none" stroke-width="3.5" stroke-linecap="round" stroke-linejoin="round" stroke-dasharray="9.8 7.9"/>
<text x="925.8" y="637" font-size="28" textLength="136" lengthAdjust="spacingAndGlyphs" stroke="#000" stroke-width="0.3" stroke-linejoin="round">Oral cavity</text>
<line x1="865.05" y1="666.7" x2="901.45" y2="666.7" stroke-width="3.5" stroke-linecap="round"/>
<text x="925.8" y="676.2" font-size="28" textLength="154" lengthAdjust="spacingAndGlyphs" stroke="#000" stroke-width="0.3" stroke-linejoin="round">Oropharynx</text>
<polyline points="868.55,705.4 905.25,705.4" fill="none" stroke-width="3.5" stroke-linecap="round" stroke-linejoin="round" stroke-dasharray="3.1 7 10.5 7.4"/>
<text x="925.8" y="715" font-size="28" textLength="174" lengthAdjust="spacingAndGlyphs" stroke="#000" stroke-width="0.3" stroke-linejoin="round">Hypopharynx</text>
<polyline points="868.55,744 903.65,744" fill="none" stroke-width="3.5" stroke-linecap="round" stroke-linejoin="round" stroke-dasharray="3.2 7.3"/>
<text x="925.8" y="752.6" font-size="28" textLength="89" lengthAdjust="spacingAndGlyphs" stroke="#000" stroke-width="0.3" stroke-linejoin="round">Larynx</text>
<polyline points="88.6,1166 96.6,1166 96.6,1503" fill="none" stroke-width="3.6" stroke-linecap="round" stroke-linejoin="round"/>
<line x1="88.6" y1="1503" x2="96.6" y2="1503" stroke-width="3.6" stroke-linecap="round"/>
<text x="85.2" y="1511.89" font-size="26.5" font-weight="bold" text-anchor="end" textLength="12.97" lengthAdjust="spacingAndGlyphs" stroke="#000" stroke-width="0.15" stroke-linejoin="round">0</text>
<line x1="88.6" y1="1418.75" x2="96.6" y2="1418.75" stroke-width="3.6" stroke-linecap="round"/>
<text x="85.2" y="1427.64" font-size="26.5" font-weight="bold" text-anchor="end" textLength="12.97" lengthAdjust="spacingAndGlyphs" stroke="#000" stroke-width="0.15" stroke-linejoin="round">1</text>
<line x1="88.6" y1="1334.5" x2="96.6" y2="1334.5" stroke-width="3.6" stroke-linecap="round"/>
<text x="85.2" y="1343.39" font-size="26.5" font-weight="bold" text-anchor="end" textLength="12.97" lengthAdjust="spacingAndGlyphs" stroke="#000" stroke-width="0.15" stroke-linejoin="round">2</text>
<line x1="88.6" y1="1250.25" x2="96.6" y2="1250.25" stroke-width="3.6" stroke-linecap="round"/>
<text x="85.2" y="1259.14" font-size="26.5" font-weight="bold" text-anchor="end" textLength="12.97" lengthAdjust="spacingAndGlyphs" stroke="#000" stroke-width="0.15" stroke-linejoin="round">3</text>
<line x1="88.6" y1="1166" x2="96.6" y2="1166" stroke-width="3.6" stroke-linecap="round"/>
<text x="85.2" y="1174.89" font-size="26.5" font-weight="bold" text-anchor="end" textLength="12.97" lengthAdjust="spacingAndGlyphs" stroke="#000" stroke-width="0.15" stroke-linejoin="round">4</text>
<line x1="88.6" y1="1503" x2="657.5" y2="1503" stroke-width="3.6" stroke-linecap="round"/>
<line x1="154.8" y1="1503" x2="154.8" y2="1512.3" stroke-width="3.6" stroke-linecap="round"/>
<text x="154.8" y="1538.2" font-size="24.5" font-weight="bold" text-anchor="middle" textLength="24.53" lengthAdjust="spacingAndGlyphs" stroke="#000" stroke-width="0.15" stroke-linejoin="round">24</text>
<line x1="232.4" y1="1503" x2="232.4" y2="1512.3" stroke-width="3.6" stroke-linecap="round"/>
<text x="232.4" y="1538.2" font-size="24.5" font-weight="bold" text-anchor="middle" textLength="24.53" lengthAdjust="spacingAndGlyphs" stroke="#000" stroke-width="0.15" stroke-linejoin="round">48</text>
<line x1="310" y1="1503" x2="310" y2="1512.3" stroke-width="3.6" stroke-linecap="round"/>
<text x="310" y="1538.2" font-size="24.5" font-weight="bold" text-anchor="middle" textLength="24.53" lengthAdjust="spacingAndGlyphs" stroke="#000" stroke-width="0.15" stroke-linejoin="round">72</text>
<line x1="387.6" y1="1503" x2="387.6" y2="1512.3" stroke-width="3.6" stroke-linecap="round"/>
<text x="387.6" y="1538.2" font-size="24.5" font-weight="bold" text-anchor="middle" textLength="24.53" lengthAdjust="spacingAndGlyphs" stroke="#000" stroke-width="0.15" stroke-linejoin="round">96</text>
<line x1="465.2" y1="1503" x2="465.2" y2="1512.3" stroke-width="3.6" stroke-linecap="round"/>
<text x="465.2" y="1538.2" font-size="24.5" font-weight="bold" text-anchor="middle" textLength="36.79" lengthAdjust="spacingAndGlyphs" stroke="#000" stroke-width="0.15" stroke-linejoin="round">120</text>
<line x1="542.8" y1="1503" x2="542.8" y2="1512.3" stroke-width="3.6" stroke-linecap="round"/>
<text x="542.8" y="1538.2" font-size="24.5" font-weight="bold" text-anchor="middle" textLength="36.79" lengthAdjust="spacingAndGlyphs" stroke="#000" stroke-width="0.15" stroke-linejoin="round">144</text>
<line x1="620.39" y1="1503" x2="620.39" y2="1512.3" stroke-width="3.6" stroke-linecap="round"/>
<text x="620.39" y="1538.2" font-size="24.5" font-weight="bold" text-anchor="middle" textLength="36.79" lengthAdjust="spacingAndGlyphs" stroke="#000" stroke-width="0.15" stroke-linejoin="round">168</text>
<text x="102.4" y="1537.2" font-size="24.5" font-weight="bold" text-anchor="middle" textLength="12.26" lengthAdjust="spacingAndGlyphs" stroke="#000" stroke-width="0.15" stroke-linejoin="round">6</text>
<text x="378.5" y="1573" font-size="27" font-weight="bold" text-anchor="middle" textLength="95" lengthAdjust="spacingAndGlyphs" stroke="#000" stroke-width="0.15" stroke-linejoin="round">Months</text>
<polyline points="96.4,1502.4 108.2,1491.5 122.8,1474.2 144.7,1458.7 157.5,1444.1 164.8,1435 179.4,1424 192.1,1407.6 206.7,1394.8 215.8,1383.9 226.8,1376.6 243.2,1368.4 250.5,1360.2 265.1,1359.3 272.4,1341 283.3,1336.5 288.8,1331.9 303.4,1331.9 318,1324.6 330.7,1320.1 354.5,1317.3 358.1,1307.3 370.9,1306.4 381.8,1302.5 397,1301 398.9,1299 420.3,1298.1 422.3,1294.2 428.1,1292.3 458.2,1292.3 459.2,1283.5 466,1279.6 500.1,1279.6 503,1267.9 576,1267.5 576.9,1255.3 659.6,1255.3" fill="none" stroke-width="3.7" stroke-linecap="round" stroke-linejoin="round" stroke-dasharray="8.5 7.5"/>
<text x="57.4" y="1332.5" font-size="29.5" font-weight="bold" text-anchor="middle" textLength="333" lengthAdjust="spacingAndGlyphs" transform="rotate(-90 57.4 1332.5)" stroke="#000" stroke-width="0.15" stroke-linejoin="round">Cumulative incidence (%)</text>
<polyline points="802.4,1159.4 811.2,1159.4 811.2,1518.8" fill="none" stroke-width="3.6" stroke-linecap="round" stroke-linejoin="round"/>
<line x1="802.4" y1="1518.8" x2="811.2" y2="1518.8" stroke-width="3.6" stroke-linecap="round"/>
<text x="799.2" y="1527.77" font-size="27" font-weight="bold" text-anchor="end" textLength="14.72" lengthAdjust="spacingAndGlyphs" stroke="#000" stroke-width="0.15" stroke-linejoin="round">0</text>
<line x1="802.4" y1="1428.9" x2="811.2" y2="1428.9" stroke-width="3.6" stroke-linecap="round"/>
<text x="799.2" y="1437.87" font-size="27" font-weight="bold" text-anchor="end" textLength="14.72" lengthAdjust="spacingAndGlyphs" stroke="#000" stroke-width="0.15" stroke-linejoin="round">2</text>
<line x1="802.4" y1="1339" x2="811.2" y2="1339" stroke-width="3.6" stroke-linecap="round"/>
<text x="799.2" y="1347.97" font-size="27" font-weight="bold" text-anchor="end" textLength="14.72" lengthAdjust="spacingAndGlyphs" stroke="#000" stroke-width="0.15" stroke-linejoin="round">4</text>
<line x1="802.4" y1="1249.1" x2="811.2" y2="1249.1" stroke-width="3.6" stroke-linecap="round"/>
<text x="799.2" y="1258.07" font-size="27" font-weight="bold" text-anchor="end" textLength="14.72" lengthAdjust="spacingAndGlyphs" stroke="#000" stroke-width="0.15" stroke-linejoin="round">6</text>
<line x1="802.4" y1="1159.2" x2="811.2" y2="1159.2" stroke-width="3.6" stroke-linecap="round"/>
<text x="799.2" y="1168.17" font-size="27" font-weight="bold" text-anchor="end" textLength="14.72" lengthAdjust="spacingAndGlyphs" stroke="#000" stroke-width="0.15" stroke-linejoin="round">8</text>
<line x1="802.4" y1="1518.8" x2="1402.8" y2="1518.8" stroke-width="3.6" stroke-linecap="round"/>
<line x1="872.47" y1="1518.8" x2="872.47" y2="1528.4" stroke-width="3.6" stroke-linecap="round"/>
<text x="872.47" y="1556" font-size="25" font-weight="bold" text-anchor="middle" textLength="26.97" lengthAdjust="spacingAndGlyphs" stroke="#000" stroke-width="0.15" stroke-linejoin="round">24</text>
<line x1="954.17" y1="1518.8" x2="954.17" y2="1528.4" stroke-width="3.6" stroke-linecap="round"/>
<text x="954.17" y="1556" font-size="25" font-weight="bold" text-anchor="middle" textLength="26.97" lengthAdjust="spacingAndGlyphs" stroke="#000" stroke-width="0.15" stroke-linejoin="round">48</text>
<line x1="1035.86" y1="1518.8" x2="1035.86" y2="1528.4" stroke-width="3.6" stroke-linecap="round"/>
<text x="1035.86" y="1556" font-size="25" font-weight="bold" text-anchor="middle" textLength="26.97" lengthAdjust="spacingAndGlyphs" stroke="#000" stroke-width="0.15" stroke-linejoin="round">72</text>
<line x1="1117.56" y1="1518.8" x2="1117.56" y2="1528.4" stroke-width="3.6" stroke-linecap="round"/>
<text x="1117.56" y="1556" font-size="25" font-weight="bold" text-anchor="middle" textLength="26.97" lengthAdjust="spacingAndGlyphs" stroke="#000" stroke-width="0.15" stroke-linejoin="round">96</text>
<line x1="1199.26" y1="1518.8" x2="1199.26" y2="1528.4" stroke-width="3.6" stroke-linecap="round"/>
<text x="1199.26" y="1556" font-size="25" font-weight="bold" text-anchor="middle" textLength="40.46" lengthAdjust="spacingAndGlyphs" stroke="#000" stroke-width="0.15" stroke-linejoin="round">120</text>
<line x1="1280.95" y1="1518.8" x2="1280.95" y2="1528.4" stroke-width="3.6" stroke-linecap="round"/>
<text x="1280.95" y="1556" font-size="25" font-weight="bold" text-anchor="middle" textLength="40.46" lengthAdjust="spacingAndGlyphs" stroke="#000" stroke-width="0.15" stroke-linejoin="round">144</text>
<line x1="1362.65" y1="1518.8" x2="1362.65" y2="1528.4" stroke-width="3.6" stroke-linecap="round"/>
<text x="1362.65" y="1556" font-size="25" font-weight="bold" text-anchor="middle" textLength="40.46" lengthAdjust="spacingAndGlyphs" stroke="#000" stroke-width="0.15" stroke-linejoin="round">168</text>
<text x="817.5" y="1555" font-size="25" font-weight="bold" text-anchor="middle" textLength="13.49" lengthAdjust="spacingAndGlyphs" stroke="#000" stroke-width="0.15" stroke-linejoin="round">6</text>
<text x="1108.5" y="1592.9" font-size="29" font-weight="bold" text-anchor="middle" textLength="100" lengthAdjust="spacingAndGlyphs" stroke="#000" stroke-width="0.15" stroke-linejoin="round">Months</text>
<polyline points="811.2,1518.8 820.39,1517.45 820.39,1509.36 839.11,1509.36 839.11,1501.27 852.39,1501.27 852.39,1497.67 867.03,1497.67 867.03,1487.34 875.54,1487.34 875.54,1477.45 887.45,1477.45 887.45,1472.05 897.66,1472.05 897.66,1466.21 902.09,1466.21 902.09,1454.52 919.45,1454.52 919.45,1443.28 926.94,1443.28 926.94,1436.99 930.34,1436.99 930.34,1430.7 932.72,1430.7 932.72,1417.66 948.38,1417.66 948.38,1410.92 955.19,1410.92 955.19,1402.38 976.97,1402.38 976.97,1394.74 991.61,1394.74 991.61,1385.3 995.02,1385.3 995.02,1376.31 1009.65,1376.31 1009.65,1355.63 1084.54,1355.63 1084.54,1327.31 1199.94,1327.31 1199.94,1301.24 1403.5,1301.24" fill="none" stroke-width="3.6" stroke-linecap="butt" stroke-linejoin="miter"/>
<polyline points="811.57,1517.48 819.59,1508.73 826.89,1499.97 834.18,1489.03 842.93,1486.84 850.23,1480.28 854.61,1472.25 863.36,1466.42 872.11,1459.12 877.95,1449.64 882.33,1444.53 889.62,1438.7 892.54,1435.05 901.29,1427.02 907.13,1424.84 915.88,1416.08 920.26,1411.7 926.1,1411.7 931.93,1408.79 940.69,1404.41 950.9,1400.03 959.65,1394.2 965.49,1388.36 971.33,1383.98 981.54,1383.98 988.83,1381.79 993.21,1373.77 996.13,1363.56 1000.51,1359.18 1009.26,1358.45 1046.08,1355.63 1063.1,1351.14 1069.9,1342.6 1083.52,1342.6 1086.92,1338.1 1114.16,1337.2 1127.77,1329.56 1191.77,1329.56 1191.77,1317.87 1240.78,1317.87 1240.78,1308.88 1317.03,1308.88 1317.03,1291.35 1403.5,1291.35" fill="none" stroke-width="3.6" stroke-linecap="round" stroke-linejoin="round" stroke-dasharray="8.9 7.3 1.9 8.4"/>
<polyline points="811.57,1518.21 840.02,1516.02 848.77,1513.83 848.77,1511.65 866.28,1511.65 869.2,1504.35 883.79,1496.33 892.54,1490.49 904.21,1483.2 911.51,1470.06 926.1,1465.69 933.39,1463.5 966.95,1463.5 971.33,1458.39 1001.97,1458.39 1009.26,1452.56 1045.01,1451.83 1079.09,1451.38 1079.09,1443.28 1152.62,1443.28 1152.62,1432.5 1236.7,1432.5 1236.7,1415.86 1403.5,1415.86" fill="none" stroke-width="3.6" stroke-linecap="round" stroke-linejoin="round" stroke-dasharray="2.4 7.85"/>
<polyline points="811.57,1518.21 825.43,1513.83 840.02,1507.27 848.77,1507.27 860.44,1504.35 872.11,1499.97 883.79,1497.79 904.21,1496.33 912.97,1490.49 924.64,1488.3 942.15,1482.47 959.65,1481.74 968.41,1479.55 974.24,1478.09 990.29,1478.09 997.59,1474.44 1041.36,1474.44 1036.2,1474.07 1043.35,1469.36 1100.2,1469.36 1100.2,1464.41 1157.05,1464.41 1157.05,1459.92 1401.45,1459.92" fill="none" stroke-width="3.6" stroke-linecap="round" stroke-linejoin="round" stroke-dasharray="9.5 7.5"/>
<text x="770" y="1319.3" font-size="30.5" font-weight="bold" text-anchor="middle" textLength="320" lengthAdjust="spacingAndGlyphs" transform="rotate(-90 770 1319.3)" stroke="#000" stroke-width="0.15" stroke-linejoin="round">Cumulative incidence (%)</text>
<polyline points="847.05,1176.7 880.75,1176.7" fill="none" stroke-width="3.5" stroke-linecap="round" stroke-linejoin="round" stroke-dasharray="9.8 7.9"/>
<text x="902.8" y="1186" font-size="29.5" textLength="131" lengthAdjust="spacingAndGlyphs" stroke="#000" stroke-width="0.3" stroke-linejoin="round">Oral cavity</text>
<line x1="845.75" y1="1215.6" x2="880.05" y2="1215.6" stroke-width="3.5" stroke-linecap="round"/>
<text x="902.8" y="1225.4" font-size="29.5" textLength="146" lengthAdjust="spacingAndGlyphs" stroke="#000" stroke-width="0.3" stroke-linejoin="round">Oropharynx</text>
<polyline points="848.25,1264.3 883.75,1264.3" fill="none" stroke-width="3.5" stroke-linecap="round" stroke-linejoin="round" stroke-dasharray="3.1 7 10.5 7.4"/>
<text x="902.8" y="1274" font-size="29.5" textLength="166" lengthAdjust="spacingAndGlyphs" stroke="#000" stroke-width="0.3" stroke-linejoin="round">Hypopharynx</text>
<polyline points="848.25,1311 882.45,1311" fill="none" stroke-width="3.5" stroke-linecap="round" stroke-linejoin="round" stroke-dasharray="3.2 7.3"/>
<text x="902.8" y="1320.7" font-size="29.5" textLength="85" lengthAdjust="spacingAndGlyphs" stroke="#000" stroke-width="0.3" stroke-linejoin="round">Larynx</text>
<text x="-1.2" y="31.3" font-size="39" font-weight="bold" textLength="56.58" lengthAdjust="spacingAndGlyphs" stroke="#000" stroke-width="0.15" stroke-linejoin="round"><tspan font-size="41">(</tspan>A<tspan font-size="41">)</tspan></text>
<text x="754" y="31.9" font-size="39" font-weight="bold" textLength="56.03" lengthAdjust="spacingAndGlyphs" stroke="#000" stroke-width="0.15" stroke-linejoin="round"><tspan font-size="41">(</tspan>B<tspan font-size="41">)</tspan></text>
<text x="-1.4" y="560.8" font-size="39" font-weight="bold" textLength="54.36" lengthAdjust="spacingAndGlyphs" stroke="#000" stroke-width="0.15" stroke-linejoin="round"><tspan font-size="41">(</tspan>C<tspan font-size="41">)</tspan></text>
<text x="752.3" y="559.5" font-size="39" font-weight="bold" textLength="60.46" lengthAdjust="spacingAndGlyphs" stroke="#000" stroke-width="0.15" stroke-linejoin="round"><tspan font-size="41">(</tspan>D<tspan font-size="41">)</tspan></text>
<text x="1.5" y="1098.3" font-size="39" font-weight="bold" textLength="53.32" lengthAdjust="spacingAndGlyphs" stroke="#000" stroke-width="0.15" stroke-linejoin="round"><tspan font-size="41">(</tspan>E<tspan font-size="41">)</tspan></text>
<text x="757" y="1089.8" font-size="39" font-weight="bold" textLength="51.13" lengthAdjust="spacingAndGlyphs" stroke="#000" stroke-width="0.15" stroke-linejoin="round"><tspan font-size="41">(</tspan>F<tspan font-size="41">)</tspan></text>
</svg>
</body></html>
